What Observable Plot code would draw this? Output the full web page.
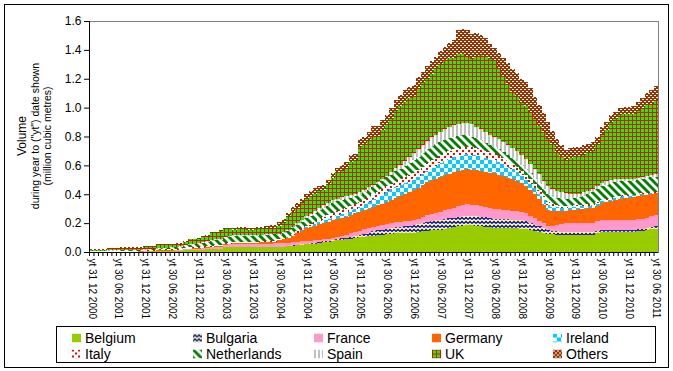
<!DOCTYPE html>
<html><head><meta charset="utf-8">
<script src="https://cdn.jsdelivr.net/npm/d3@7"></script>
<script src="https://cdn.jsdelivr.net/npm/@observablehq/plot@0.6"></script>
<style>
body{margin:0;background:#fff;font-family:"Liberation Sans",Arial,sans-serif;color:#000;}
#frame{position:absolute;left:4px;top:4px;width:665px;height:364px;border:1px solid #000;box-sizing:border-box;}
#chart{position:absolute;left:0;top:0;}
.yt{position:absolute;white-space:nowrap;transform:translate(-50%,-50%) rotate(-90deg);line-height:1;}
#legend{position:absolute;left:56px;top:326px;width:600px;height:37px;border:1px solid #000;box-sizing:border-box;background:#fff;}
.li{position:absolute;font-size:14px;line-height:1;white-space:nowrap;transform:translateY(-50%);}
.sw{position:absolute;transform:translateY(-50%);}
</style></head>
<body>
<svg width="0" height="0" style="position:absolute">
<defs>
<pattern id="pBul" patternUnits="userSpaceOnUse" width="4" height="4"><rect width="4" height="4" fill="#FFFF80"/><path d="M0,3.5 L2,1.5 L4,3.5" fill="none" stroke="#0000CC" stroke-width="1.3"/></pattern>
<pattern id="pIre" patternUnits="userSpaceOnUse" width="8" height="8"><rect width="8" height="8" fill="#fff"/><rect width="4" height="4" fill="#00CCFF"/><rect x="4" y="4" width="4" height="4" fill="#00CCFF"/></pattern>
<pattern id="pIta" patternUnits="userSpaceOnUse" width="6" height="6"><rect width="6" height="6" fill="#fff"/><rect width="2" height="2" fill="#FF0000"/><rect x="3" y="3" width="2" height="2" fill="#FF0000"/></pattern>
<pattern id="pNL" patternUnits="userSpaceOnUse" width="8" height="8"><rect width="8" height="8" fill="#fff"/><polygon points="0,0 2,0 8,6 8,8 6,8 0,2" fill="#008000"/><polygon points="6,0 8,0 8,2" fill="#008000"/><polygon points="0,6 0,8 2,8" fill="#008000"/></pattern>
<pattern id="pSpa" patternUnits="userSpaceOnUse" width="4" height="4"><rect width="4" height="4" fill="#fff"/><rect width="2" height="4" fill="#C0C0C0"/></pattern>
<pattern id="pUK" patternUnits="userSpaceOnUse" width="4" height="4"><rect width="4" height="4" fill="#00FF00"/><rect width="4" height="1" fill="#FF0000"/><rect width="1" height="4" fill="#FF0000"/></pattern>
<pattern id="pOth" patternUnits="userSpaceOnUse" width="4" height="4"><rect width="4" height="4" fill="#993300"/><rect y="1" width="2" height="1" fill="#fff"/><rect x="2" y="3" width="2" height="1" fill="#fff"/></pattern>
</defs>
</svg>
<div id="frame"></div>
<div id="chart"></div>
<div class="yt" style="left:22px;top:136px;font-size:12px;">Volume</div>
<div class="yt" style="left:35px;top:136px;font-size:10.5px;">during year to ("yt") date shown</div>
<div class="yt" style="left:47px;top:136px;font-size:10.5px;">(million cubic metres)</div>
<div id="legend"></div>
<script>
const seriesNames = ["Belgium","Bulgaria","France","Germany","Ireland","Italy","Netherlands","Spain","UK","Others"];
const seriesFills = ["#99CC00","url(#pBul)","#FF99CC","#FF6600","url(#pIre)","url(#pIta)","url(#pNL)","url(#pSpa)","url(#pUK)","url(#pOth)"];
const tickLabels = ["yt 31 12 2000","yt 30 06 2001","yt 31 12 2001","yt 30 06 2002","yt 31 12 2002","yt 30 06 2003","yt 31 12 2003","yt 30 06 2004","yt 31 12 2004","yt 30 06 2005","yt 31 12 2005","yt 30 06 2006","yt 31 12 2006","yt 30 06 2007","yt 31 12 2007","yt 30 06 2008","yt 31 12 2008","yt 30 06 2009","yt 31 12 2009","yt 30 06 2010","yt 31 12 2010","yt 30 06 2011"];
const yTicks = [0,0.2,0.4,0.6,0.8,1.0,1.2,1.4,1.6];

const belgium = [0,0,0,0,0,0,0,0,0,0,0,0,0.002,
0.004,0.004,0.005,0.005,0.006,0.006,0.007,0.008,
0.012,0.014,0.015,0.016,0.017,0.018,0.018,0.019,0.02,
0.033,0.034,0.035,0.035,0.035,0.035,0.035,0.035,0.036,0.036,0.036,0.036,0.037,0.038,0.04,
0.045,0.047,0.05,0.053,0.055,0.058,0.062,0.066,0.07,
0.076,0.08,0.084,0.088,0.093,0.098,0.104,0.107,0.11,0.113,
0.116,0.12,0.128,0.128,0.13,0.13,0.131,0.132,
0.132,0.138,0.142,0.146,0.15,0.152,
0.155,0.16,0.166,0.172,0.178,0.182,
0.185,0.185,0.183,0.18,0.176,0.172,
0.169,0.168,0.166,0.165,0.164,0.163,
0.162,0.158,0.152,0.146,0.14,0.134,
0.128,0.124,0.12,0.118,0.116,0.116,
0.116,0.116,0.118,0.118,0.12,0.13,
0.139,0.139,0.138,0.138,0.138,0.139,
0.139,0.14,0.142,0.146,0.15,0.156,0.162];

const bulgaria = [0,0,0,0,0,0,0,0,0,0,0,0,0,0,0,0,0,0,0,0,0,0,0,0,0,0,0,0,0,0,0,0,0,0,0,0,0,0,0,0,0,0,0,0,0,
0.002,0.003,0.004,0.005,0.005,0.006,0.007,0.008,0.008,
0.009,0.009,0.01,0.01,0.011,0.011,
0.012,0.018,0.024,0.03,0.033,0.034,
0.034,0.036,0.04,0.044,0.048,0.05,
0.053,0.056,0.06,0.063,0.066,0.068,
0.07,0.07,0.068,0.066,0.065,0.064,
0.063,0.063,0.063,0.063,0.063,0.063,
0.063,0.062,0.062,0.061,0.06,0.059,
0.058,0.055,0.05,0.044,0.038,0.03,
0.024,0.022,0.022,0.021,0.021,0.02,
0.02,0.02,0.019,0.018,0.017,0.016,
0.015,0.015,0.015,0.015,0.015,0.015,
0.015,0.015,0.016,0.016,0.016,0.016,0.016];

const france = [0,0,0,0,0,0,0,0.001,0.001,0.001,0.001,0.002,
0.002,0.003,0.003,0.003,0.004,0.004,0.004,0.005,0.005,
0.006,0.006,0.007,0.008,0.01,0.012,0.014,0.015,0.016,
0.018,0.019,0.02,0.02,0.02,0.021,0.021,0.022,0.022,0.022,0.022,0.023,
0.023,0.022,0.022,0.021,0.021,0.02,
0.02,0.019,0.018,0.017,0.016,0.015,
0.015,0.018,0.02,0.023,0.026,0.028,
0.03,0.031,0.032,0.033,0.034,0.035,
0.035,0.035,0.035,0.035,0.035,0.035,
0.035,0.038,0.042,0.045,0.048,0.05,
0.053,0.058,0.064,0.07,0.076,0.08,
0.082,0.08,0.078,0.075,0.072,0.07,
0.069,0.068,0.066,0.064,0.062,0.06,
0.058,0.055,0.05,0.045,0.04,0.034,
0.03,0.035,0.045,0.055,0.062,0.065,
0.066,0.066,0.066,0.066,0.066,0.066,
0.066,0.068,0.07,0.07,0.07,0.068,
0.066,0.066,0.068,0.07,0.072,0.075,0.077];

const germany = [0.001,0.001,0.001,0.001,0.001,0.001,0.002,0.002,0.002,0.002,0.002,0.002,
0.002,0.002,0.002,0.003,0.003,0.003,0.003,0.003,0.003,0.004,0.004,0.004,
0.004,0.004,0.004,0.004,0.005,0.005,0.005,0.005,0.005,0.005,0.006,0.006,
0.006,0.007,0.008,0.009,0.01,0.012,
0.02,0.028,0.035,0.045,0.058,0.072,
0.085,0.092,0.1,0.105,0.11,0.115,
0.12,0.121,0.122,0.124,0.126,0.13,
0.133,0.134,0.135,0.136,0.14,0.145,
0.15,0.16,0.17,0.18,0.19,0.2,
0.208,0.214,0.22,0.228,0.234,0.238,
0.242,0.244,0.245,0.246,0.245,0.244,
0.242,0.243,0.244,0.244,0.243,0.243,
0.243,0.238,0.232,0.225,0.218,0.21,
0.2,0.19,0.18,0.165,0.15,0.13,
0.112,0.104,0.097,0.09,0.086,0.088,
0.092,0.095,0.098,0.1,0.105,0.11,
0.116,0.122,0.13,0.138,0.145,0.15,
0.155,0.158,0.16,0.16,0.158,0.155,0.152];

const ireland = [0,0,0,0,0,0,0,0,0,0,0,0,0,0,0,0,0,0,0,0,0,0.001,0,0,0,0,0,0,0,0,0,0,0,0,0.001,0,0,0,0,0,
0.001,0.001,0.002,0.003,0.004,0.005,0.006,0.008,
0.01,0.012,0.014,0.017,0.02,0.022,
0.025,0.027,0.029,0.031,0.033,0.034,
0.035,0.04,0.046,0.052,0.06,0.07,
0.078,0.078,0.076,0.074,0.072,0.071,
0.07,0.073,0.077,0.082,0.087,0.09,
0.094,0.097,0.1,0.102,0.104,0.105,
0.106,0.104,0.102,0.1,0.097,0.095,
0.093,0.088,0.082,0.075,0.068,0.06,
0.052,0.046,0.042,0.04,0.037,0.035,
0.033,0.03,0.027,0.024,0.022,0.02,
0.02,0.019,0.018,0.018,0.017,0.016,
0.015,0.015,0.016,0.016,0.016,0.016,
0.016,0.014,0.012,0.01,0.008,0.006,0.005];

const italy = [0.004,0.004,0.004,0.005,0.006,0.006,0.006,0.006,0.006,0.006,0.006,0.006,
0.006,0.006,0.007,0.007,0.007,0.007,0.007,0.007,0.008,0.008,0.008,0.008,
0.008,0.008,0.008,0.008,0.008,0.008,0.008,0.008,0.008,0.008,0.008,0.007,
0.007,0.007,0.007,0.007,0.007,0.007,0.007,0.007,0.008,0.008,0.009,0.01,
0.01,0.012,0.015,0.018,0.021,0.023,
0.025,0.027,0.029,0.031,0.033,0.034,
0.035,0.035,0.035,0.035,0.035,0.035,
0.035,0.037,0.039,0.041,0.043,0.045,
0.046,0.048,0.05,0.052,0.054,0.055,
0.056,0.056,0.055,0.054,0.053,0.052,
0.051,0.05,0.05,0.049,0.048,0.047,
0.046,0.044,0.042,0.04,0.038,0.036,
0.034,0.032,0.03,0.028,0.026,0.024,
0.022,0.019,0.016,0.013,0.011,0.01,
0.01,0.01,0.01,0.01,0.01,0.01,
0.01,0.009,0.008,0.007,0.006,0.006,
0.005,0.005,0.005,0.005,0.005,0.005,0.005];

const netherlands = [0.003,0.003,0.003,0.003,0.003,0.003,0.004,0.004,0.004,0.004,0.004,0.004,
0.005,0.005,0.005,0.006,0.007,0.008,
0.01,0.012,0.014,0.015,0.017,0.018,
0.02,0.024,0.028,0.032,0.035,0.037,
0.038,0.04,0.042,0.042,0.043,0.043,
0.043,0.042,0.042,0.042,0.043,0.043,
0.03,0.032,0.036,0.04,0.044,0.047,
0.05,0.055,0.058,0.062,0.066,0.068,
0.07,0.068,0.064,0.06,0.055,0.05,
0.045,0.048,0.05,0.052,0.054,0.056,
0.057,0.062,0.068,0.074,0.08,0.086,
0.093,0.094,0.095,0.095,0.095,0.094,
0.094,0.092,0.09,0.088,0.085,0.083,
0.081,0.075,0.068,0.062,0.056,0.05,
0.046,0.045,0.044,0.043,0.042,0.041,
0.04,0.041,0.042,0.044,0.046,0.048,
0.05,0.05,0.05,0.05,0.05,0.05,
0.05,0.055,0.062,0.07,0.078,0.086,
0.094,0.098,0.1,0.1,0.1,0.098,
0.095,0.095,0.097,0.1,0.102,0.104,0.105];

const spain = [0,0,0,0.001,0.001,0.001,0.001,0.001,0.001,0.002,0.002,0.002,
0.002,0.002,0.002,0.003,0.003,0.003,0.003,0.003,0.003,0.004,0.004,0.004,
0.004,0.004,0.005,0.005,0.005,0.005,0.005,0.005,0.005,0.006,0.006,0.006,
0.006,0.006,0.006,0.006,0.006,0.006,0.005,0.006,0.008,0.01,0.012,0.014,
0.015,0.016,0.017,0.018,0.019,0.02,
0.02,0.02,0.02,0.02,0.02,0.02,
0.02,0.018,0.016,0.014,0.012,0.01,
0.01,0.016,0.022,0.028,0.034,0.04,
0.046,0.05,0.054,0.058,0.062,0.066,
0.069,0.072,0.076,0.08,0.083,0.085,
0.086,0.084,0.081,0.078,0.075,0.073,
0.071,0.07,0.07,0.07,0.07,0.07,
0.07,0.068,0.066,0.063,0.06,0.058,
0.055,0.052,0.048,0.045,0.04,0.035,
0.025,0.024,0.024,0.024,0.024,0.025,
0.025,0.024,0.022,0.02,0.018,0.016,
0.015,0.015,0.015,0.015,0.015,0.015,0.015];

const uk = [0.008,0.008,0.008,0.006,0.014,0.014,0.012,0.016,0.016,0.015,0.015,0.014,
0.018,0.014,0.013,0.022,0.019,0.019,0.018,0.021,0.016,0.018,0.034,0.031,
0.033,0.035,0.037,0.05,0.043,0.051,0.05,0.045,0.04,0.041,0.039,0.035,
0.035,0.038,0.036,0.04,0.042,0.037,0.059,0.067,0.088,0.104,0.108,0.111,
0.117,0.119,0.119,0.119,0.104,0.124,0.155,0.174,0.184,0.193,0.228,0.227,
0.316,0.314,0.322,0.34,0.316,0.34,0.353,0.372,0.395,0.406,0.407,0.407,
0.397,0.424,0.428,0.431,0.439,0.456,0.472,0.481,0.481,0.467,0.481,0.475,
0.464,0.456,0.491,0.514,0.53,0.527,0.52,0.485,0.449,0.415,0.388,0.376,
0.356,0.365,0.358,0.346,0.338,0.337,0.326,0.304,0.27,0.249,0.228,0.244,
0.261,0.255,0.257,0.26,0.263,0.279,0.328,0.355,0.395,0.414,0.44,0.449,
0.451,0.447,0.46,0.468,0.489,0.496,0.513];

const others = [0.002,0.002,0.002,0.002,0.003,0.003,0.003,0.003,0.003,0.003,0.003,0.003,
0.003,0.004,0.004,0.004,0.005,0.005,0.005,0.005,0.006,0.006,0.006,0.006,
0.007,0.007,0.008,0.008,0.009,0.009,0.01,0.011,0.012,0.013,0.014,0.015,
0.015,0.015,0.015,0.016,0.018,0.02,0.025,0.027,0.029,0.03,0.032,0.034,
0.035,0.035,0.035,0.035,0.035,0.035,
0.035,0.036,0.038,0.04,0.045,0.048,
0.05,0.055,0.06,0.065,0.07,0.07,
0.07,0.072,0.075,0.078,0.08,0.08,
0.08,0.08,0.082,0.085,0.085,0.085,
0.085,0.09,0.1,0.12,0.17,0.175,
0.18,0.17,0.16,0.14,0.12,0.1,
0.09,0.11,0.13,0.15,0.16,0.165,
0.17,0.17,0.165,0.155,0.145,0.13,
0.12,0.1,0.085,0.075,0.07,0.07,
0.07,0.07,0.068,0.066,0.064,0.062,
0.06,0.058,0.056,0.054,0.052,0.05,
0.05,0.055,0.065,0.075,0.085,0.095,0.1];

const seriesValues = [belgium,bulgaria,france,germany,ireland,italy,netherlands,spain,uk,others];

// categories: one per month, yt Dec 2000 .. yt Jun 2011
const months = [];
for (let i = 0; i < belgium.length; i++) {
  const d = new Date(Date.UTC(2000, 11 + i, 1));
  months.push(d.toISOString().slice(0, 7));
}
const labelMonths = months.filter((_, i) => i % 6 === 0);
const labelMap = new Map(labelMonths.map((m, i) => [m, tickLabels[i]]));

const data = [];
months.forEach((m, i) => seriesNames.forEach((s, k) => data.push({month: m, series: s, value: seriesValues[k][i]})));

const W = 673, H = 322, mL = 89, mR = 15, mT = 21, mB = 70;
const bw = (W - mL - mR) / months.length;

const chart = Plot.plot({
  width: W, height: H,
  marginLeft: mL, marginRight: mR, marginTop: mT, marginBottom: mB,
  style: {fontFamily: "'Liberation Sans', Arial, sans-serif", fontSize: "12px", color: "#000", background: "transparent"},
  x: {type: "band", domain: months, padding: 0, axis: null},
  y: {domain: [0, 1.6], axis: null},
  color: {type: "ordinal", domain: seriesNames, range: seriesFills},
  marks: [
    Plot.frame({stroke: "#808080"}),
    Plot.barY(data, {x: "month", y: "value", fill: "series", shapeRendering: "crispEdges"}),
    Plot.ruleY([0], {stroke: "#000"}),
    Plot.ruleX([months[0]], {stroke: "#000", dx: -bw / 2}),
    Plot.axisY({ticks: yTicks, tickFormat: d3.format(".1f"), tickSize: 5, tickPadding: 3, fontSize: 12, anchor: "left", label: null}),
    Plot.axisX({ticks: months, tickSize: 4, tickFormat: () => "", dx: -bw / 2, anchor: "bottom", label: null}),
    Plot.axisX({ticks: labelMonths, tickSize: 0, tickPadding: 6, tickRotate: 90, tickFormat: d => labelMap.get(d), fontSize: 10, anchor: "bottom", label: null})
  ]
});
document.getElementById("chart").appendChild(chart);

// legend
const legend = document.getElementById("legend");
const colX = [15, 136, 257, 375, 496];
const rowY = [11, 27];
seriesNames.forEach((s, k) => {
  const col = k % 5, row = Math.floor(k / 5);
  const sw = document.createElementNS("http://www.w3.org/2000/svg", "svg");
  sw.setAttribute("width", 9); sw.setAttribute("height", 9);
  sw.setAttribute("class", "sw");
  sw.style.left = colX[col] + "px"; sw.style.top = rowY[row] + "px";
  const r = document.createElementNS("http://www.w3.org/2000/svg", "rect");
  r.setAttribute("width", 9); r.setAttribute("height", 9); r.setAttribute("fill", seriesFills[k]);
  sw.appendChild(r);
  legend.appendChild(sw);
  const t = document.createElement("div");
  t.className = "li"; t.textContent = s;
  t.style.left = (colX[col] + 13) + "px"; t.style.top = rowY[row] + "px";
  legend.appendChild(t);
});
</script>
</body></html>
